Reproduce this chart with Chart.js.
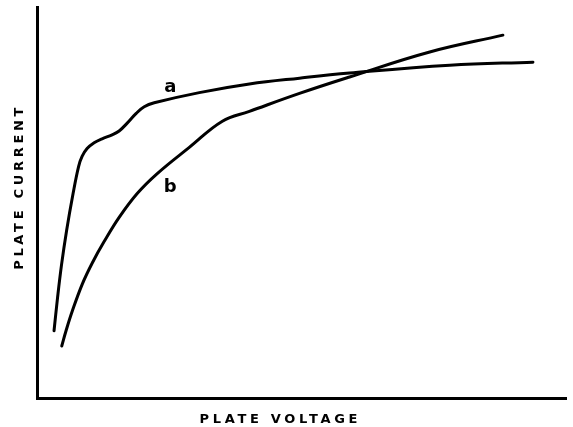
<!DOCTYPE html>
<html>
<head>
<meta charset="utf-8">
<script src="https://cdn.jsdelivr.net/npm/chart.js@4.4.0/dist/chart.umd.min.js"></script>
<style>
  html, body { margin: 0; padding: 0; background: #fff; }
  #wrap { width: 573px; height: 427px; }
</style>
</head>
<body>
<div id="wrap"><canvas id="plateChart"></canvas></div>
<script>
// curve a (plate voltage / plate current, arbitrary units 0-100)
const voltageA = [3.22, 3.88, 4.64, 5.59, 6.82, 7.86, 8.52, 9.47, 10.80, 12.31, 14.20, 15.53, 17.05, 18.75, 20.27, 22.16, 30.68, 40.15, 49.62, 59.09, 78.03, 93.75];
const currentA = [17.2, 25.6, 34.1, 42.8, 52.3, 59.2, 61.8, 63.8, 65.3, 66.3, 67.3, 68.3, 70.3, 72.8, 74.5, 75.5, 78.1, 80.3, 81.8, 83.1, 85.1, 85.9];

// curve b
const voltageB = [4.68, 5.49, 6.69, 8.58, 10.47, 12.69, 15.53, 18.94, 22.73, 28.79, 35.04, 40.15, 49.62, 59.09, 74.24, 88.07];
const currentB = [13.3, 17.2, 22.3, 29.2, 34.6, 40.0, 46.2, 52.3, 57.4, 64.1, 70.8, 73.3, 77.9, 82.1, 88.5, 92.8];

const curveNames = ['a', 'b'];
const nameAtX = [25.2, 25.2];
const nameAtY = [79.5, 54.0];

const xTitle = 'PLATE VOLTAGE';
const yTitle = 'PLATE CURRENT';

const INK = '#000';

function toPoints(xs, ys) {
  return xs.map((x, i) => ({x: x, y: ys[i]}));
}

// letters "a", "b" next to the curves and the spaced-out axis titles
const textPlugin = {
  id: 'plateText',
  afterDraw(chart) {
    const ctx = chart.ctx;
    const xs = chart.scales.x, ys = chart.scales.y;
    const area = chart.chartArea;
    ctx.save();
    ctx.fillStyle = INK;
    ctx.textAlign = 'center';
    ctx.textBaseline = 'middle';
    ctx.font = 'bold 18px "DejaVu Sans"';
    curveNames.forEach((n, i) => {
      ctx.fillText(n, xs.getPixelForValue(nameAtX[i]), ys.getPixelForValue(nameAtY[i]));
    });

    ctx.font = 'bold 13px "DejaVu Sans"';
    ctx.letterSpacing = '3.7px';
    ctx.fillText(xTitle, area.left + area.width * 0.46, area.bottom + 22);

    ctx.translate(20, area.top + area.height * 0.46);
    ctx.rotate(-Math.PI / 2);
    ctx.fillText(yTitle, 0, 0);
    ctx.restore();
  }
};

new Chart(document.getElementById('plateChart'), {
  type: 'scatter',
  data: {
    datasets: [
      {
        label: 'a',
        data: toPoints(voltageA, currentA),
        showLine: true,
        borderColor: INK,
        borderWidth: 3,
        pointRadius: 0,
        tension: 0.4,
        borderCapStyle: 'round'
      },
      {
        label: 'b',
        data: toPoints(voltageB, currentB),
        showLine: true,
        borderColor: INK,
        borderWidth: 3,
        pointRadius: 0,
        tension: 0.4,
        borderCapStyle: 'round'
      }
    ]
  },
  options: {
    responsive: true,
    maintainAspectRatio: false,
    animation: false,
    layout: {padding: {left: 37, top: 7, right: 7, bottom: 29}},
    plugins: {legend: {display: false}, tooltip: {enabled: false}},
    scales: {
      x: {
        type: 'linear', min: 0, max: 100,
        grid: {display: false, drawTicks: false},
        ticks: {display: false},
        border: {display: true, color: INK, width: 3}
      },
      y: {
        type: 'linear', min: 0, max: 100,
        grid: {display: false, drawTicks: false},
        ticks: {display: false},
        border: {display: true, color: INK, width: 3}
      }
    }
  },
  plugins: [textPlugin]
});
</script>
</body>
</html>
